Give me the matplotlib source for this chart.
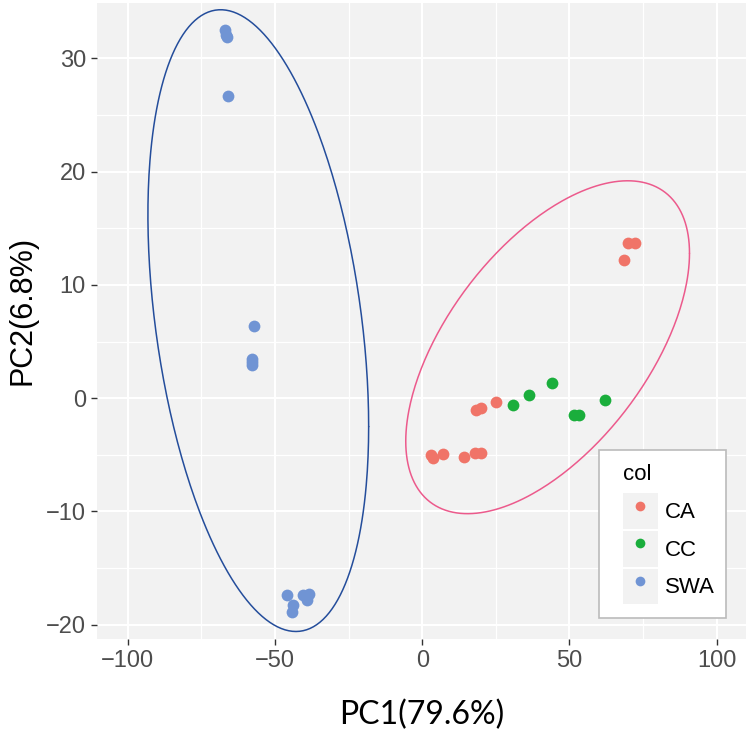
import numpy as np
import matplotlib
matplotlib.use("Agg")
import matplotlib.pyplot as plt
from matplotlib.lines import Line2D
from matplotlib.patches import Rectangle

# PCA scores
swa_x = [-67.0, -66.5, -66.3, -65.9, -57.2, -58.0, -58.0, -57.8, -46.1, -43.9, -44.2, -40.5, -38.4, -39.3]
swa_y = [32.5, 32.1, 31.9, 26.7, 6.4, 3.5, 2.9, 3.2, -17.4, -18.3, -18.9, -17.4, -17.3, -17.8]
ca_x = [3.1, 3.7, 7.1, 14.2, 17.8, 19.9, 18.4, 20.1, 25.0, 69.8, 72.4, 68.4]
ca_y = [-5.0, -5.3, -4.9, -5.2, -4.8, -4.8, -1.05, -0.85, -0.3, 13.7, 13.7, 12.2]
cc_x = [30.8, 36.3, 44.2, 51.5, 53.3, 62.0]
cc_y = [-0.6, 0.25, 1.35, -1.45, -1.45, -0.15]

groups = ["CA", "CC", "SWA"]
colors = {"CA": "#F07468", "CC": "#1AAE3C", "SWA": "#7094D4"}

# confidence ellipses (centre and shape matrix)
swa_center = [-55.7, 6.85]
swa_shape = [[1406.0, -351.0], [-351.0, 753.5]]
c_center = [42.6, 4.5]
c_shape = [[2323.0, 400.0], [400.0, 216.0]]


def ellipse(center, shape, segments=360):
    t = np.linspace(0, 2 * np.pi, segments + 1)
    circle = np.column_stack([np.cos(t), np.sin(t)])
    L = np.linalg.cholesky(np.array(shape))
    pts = np.array(center) + circle @ L.T
    return pts[:, 0], pts[:, 1]


fig = plt.figure(figsize=(7.46, 7.36), dpi=100)
ax = fig.add_axes([0.130, 0.132, 0.872, 0.864])
ax.set_facecolor("#F2F2F2")

ax.set_xlim(-110.5, 110.5)
ax.set_ylim(-21.25, 34.9)
ax.set_xticks([-100, -50, 0, 50, 100])
ax.set_xticks([-75, -25, 25, 75], minor=True)
ax.set_yticks([-20, -10, 0, 10, 20, 30])
ax.set_yticks([-15, -5, 5, 15, 25], minor=True)
ax.grid(which="major", color="white", linewidth=1.5)
ax.grid(which="minor", color="white", linewidth=0.9)
ax.set_axisbelow(True)
for s in ax.spines.values():
    s.set_visible(False)
ax.tick_params(which="major", length=4, width=1, color="#333333",
               labelsize=17, labelcolor="#4D4D4D", pad=4)
ax.tick_params(which="minor", length=0)
for lab in ax.get_xticklabels() + ax.get_yticklabels():
    lab.set_family("Liberation Sans")

ex, ey = ellipse(swa_center, swa_shape)
ax.plot(ex, ey, color="#244D9B", linewidth=1.1, solid_joinstyle="round", solid_capstyle="round")
ex, ey = ellipse(c_center, c_shape)
ax.plot(ex, ey, color="#EC5A8C", linewidth=1.1, solid_joinstyle="round", solid_capstyle="round")

ax.scatter(ca_x, ca_y, s=72, color=colors["CA"], zorder=3, linewidths=0)
ax.scatter(cc_x, cc_y, s=72, color=colors["CC"], zorder=3, linewidths=0)
ax.scatter(swa_x, swa_y, s=72, color=colors["SWA"], zorder=3, linewidths=0)

ax.set_xlabel("PC1(79.6%)", family="Lato", fontsize=23, labelpad=20)
ax.set_ylabel("PC2(6.8%)", family="Liberation Sans", fontsize=22)
ax.yaxis.set_label_coords(-0.091, 0.517)

# legend frame drawn separately (ggplot pads it unevenly)
frame = Rectangle((0.8029, 0.1603), 0.1702, 0.2283, transform=fig.transFigure,
                  facecolor="white", edgecolor="#BBBBBB", linewidth=1.2)
fig.patches.append(frame)

handles = [(Rectangle((0, 0), 1, 1, facecolor="#F2F2F2", edgecolor="none"),
            Line2D([], [], marker="o", linestyle="none", markersize=7,
                   markeredgewidth=0, color=colors[g])) for g in groups]
leg = fig.legend(handles, groups, loc="upper left", bbox_to_anchor=(0.8351, 0.369),
                 prop={"family": "Liberation Sans", "size": 16},
                 title="col", title_fontproperties={"family": "Liberation Sans", "size": 16},
                 alignment="left", frameon=False,
                 handlelength=1.575, handleheight=2.1, labelspacing=0.08,
                 handletextpad=0.3, borderpad=0, borderaxespad=0)
leg._legend_box.sep = 5.8

fig.savefig("out.png", dpi=100)
